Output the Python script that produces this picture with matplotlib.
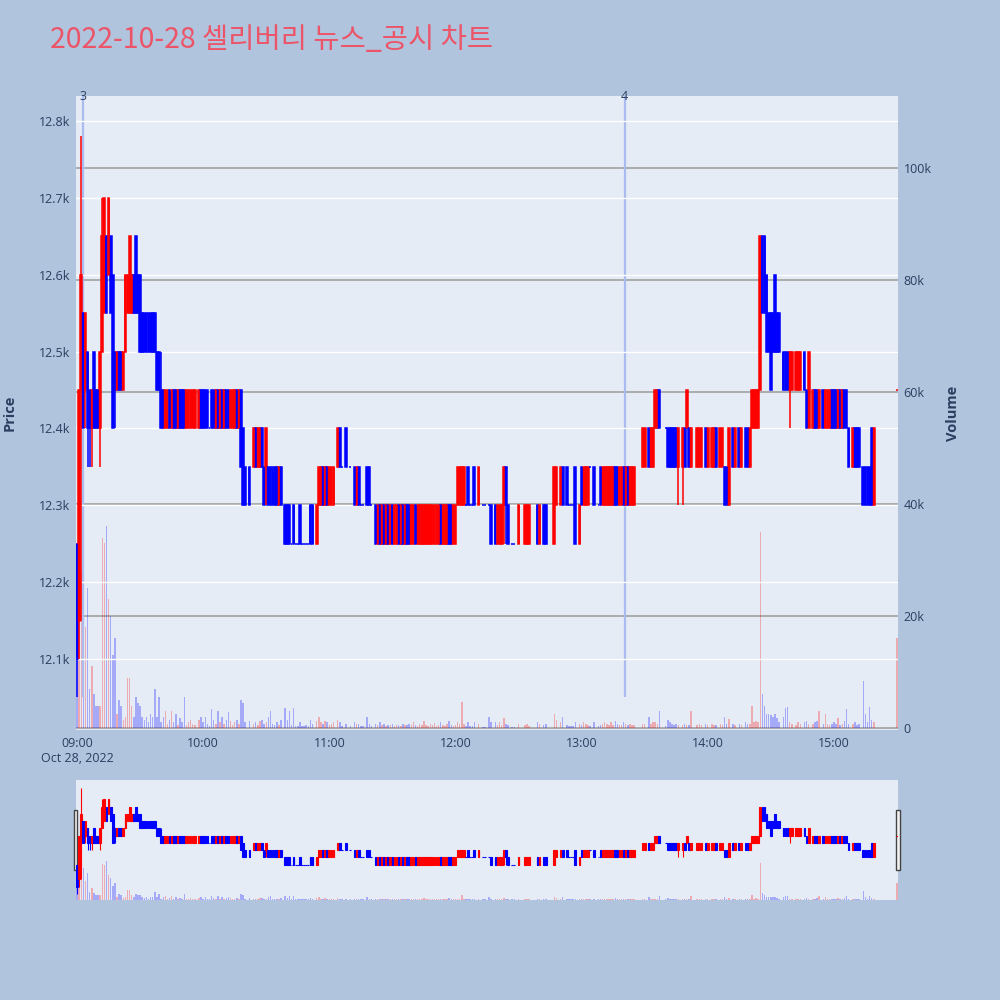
import matplotlib.pyplot as plt
from matplotlib.patches import Rectangle
from matplotlib.transforms import blended_transform_factory

plt.rcParams['font.family'] = ['Open Sans', 'Noto Sans CJK KR', 'DejaVu Sans']

title = '2022-10-28 셀리버리 뉴스_공시 차트'

# minutes after 09:00, one candle per traded minute
minute = [
    0, 1, 2, 3, 4, 5, 6, 7, 8, 9, 10, 11, 12, 13, 14, 15, 16, 17, 18, 19,
    20, 21, 22, 23, 24, 25, 26, 27, 28, 29, 30, 31, 32, 33, 34, 35, 36, 37, 38, 39, 40,
    41, 42, 43, 44, 45, 46, 47, 48, 49, 50, 51, 52, 53, 54, 55, 56,
    58, 59, 60, 61, 62, 63, 64, 65, 66, 67, 68, 69, 70, 71, 72, 73, 74, 75, 76, 77,
    78, 79, 80, 82, 84, 85, 86, 87, 88, 89, 90, 91, 92, 93, 94, 95, 96, 97,
    99, 100, 101, 102, 103, 104, 105, 106, 107, 108, 109, 110, 111, 112,
    114, 115, 116, 117, 118, 119, 120, 121, 122, 124, 125, 126, 128, 130,
    132, 133, 134, 135, 136, 138, 139, 140,
    142, 143, 144, 145, 146, 147, 148, 149, 150, 151, 152, 153, 154, 155, 156, 157,
    158, 159, 160, 161, 162, 163, 164, 165, 166, 167, 168, 169, 170, 171, 172, 173,
    174, 175, 176, 177, 178, 179, 180,
    181, 182, 183, 184, 185, 186, 187, 188, 189, 191, 193, 194, 196, 197,
    199, 200, 201, 202, 203, 204, 205, 207, 208, 210, 213, 214, 215, 219, 220,
    222, 223, 227, 228, 230, 231, 233, 234, 235,
    236, 237, 239, 240, 241, 242, 243, 244, 246, 248,
    249, 250, 251, 252, 253, 254, 255, 256, 257, 258,
    259, 260, 261, 262, 263, 264, 265, 269, 270, 272,
    273, 274, 275, 276, 277, 280, 281, 282, 283, 284,
    285, 286, 288, 289, 290, 291, 292, 295, 296, 297,
    299, 300, 302, 303, 304, 306, 307, 308, 309, 310,
    312, 313,
    315, 316, 318, 319, 320, 321, 322, 323, 324, 325,
    326, 327, 328, 329, 330, 331, 332, 333, 334, 336,
    337, 338, 339, 340, 342, 343, 344, 346, 347, 348,
    350, 351, 352, 353, 355, 356, 357, 358, 359, 360,
    361, 362, 363, 364, 365, 366, 367, 369, 370, 371,
    372, 374, 375, 376, 377, 378, 379, 390,
]

open_ = [
    12250, 12150, 12450, 12550, 12450, 12500, 12450, 12400, 12500, 12450,
    12450, 12400, 12500, 12550, 12650, 12600, 12650, 12600, 12500, 12450,
    12500, 12500, 12450, 12500, 12550, 12550, 12550, 12600, 12650, 12600,
    12600, 12550, 12550, 12550, 12550, 12550, 12550, 12550, 12500, 12500,
    12450,
    12450, 12400, 12400, 12450, 12400, 12450, 12450, 12400, 12450, 12450,
    12450, 12400, 12400, 12400, 12400, 12400, 12400, 12450, 12450, 12450,
    12450, 12400, 12450, 12450, 12400, 12450, 12400, 12450, 12400, 12450,
    12450, 12400, 12400, 12400, 12450, 12400,
    12450, 12400, 12350, 12350,
    12350, 12400, 12350, 12350, 12400, 12350, 12350, 12350, 12350, 12350, 12350, 12350, 12300, 12350,
    12300, 12300, 12300, 12250, 12300, 12250, 12250, 12300, 12250, 12250, 12250, 12250, 12300, 12300,
    12250, 12300, 12300, 12350, 12300, 12350, 12300, 12300, 12300,
    12350, 12400, 12350, 12400, 12350,
    12350, 12300, 12350, 12300, 12300, 12350, 12350, 12300,
    12300, 12250, 12300, 12250, 12300, 12250, 12300, 12250, 12300, 12250, 12250, 12300, 12250, 12300, 12250, 12300,
    12300, 12250, 12250, 12300, 12250, 12250, 12250, 12250, 12250, 12250, 12250, 12250,
    12250, 12250, 12250, 12300, 12250, 12250, 12250, 12300, 12300, 12250, 12250,
    12300, 12300, 12300, 12300, 12300, 12350, 12300, 12300, 12350, 12300, 12300, 12300, 12300, 12300,
    12300, 12250, 12250, 12250, 12300, 12350, 12300, 12250, 12250, 12250, 12250, 12250, 12250, 12300, 12250,
    12300, 12300, 12250, 12300, 12300, 12350, 12350, 12300, 12300,
    12300, 12350, 12250, 12350, 12300, 12300, 12300, 12350, 12350, 12300,
    12350, 12300, 12300, 12300, 12300, 12300, 12300, 12350, 12350, 12300,
    12300, 12350, 12300, 12350, 12300, 12300, 12300, 12350, 12350, 12400,
    12350, 12350, 12400, 12400, 12450, 12400, 12400, 12400, 12400, 12400,
    12400, 12350, 12350, 12400, 12400, 12400, 12350, 12350, 12350, 12350,
    12400, 12350, 12350, 12350, 12400, 12350, 12350, 12350, 12350, 12300,
    12400, 12350,
    12400, 12350, 12400, 12400, 12350, 12400, 12400, 12400, 12400, 12450,
    12650, 12650, 12600, 12550, 12550, 12550, 12600, 12550, 12550, 12500,
    12500, 12500, 12450, 12450, 12450, 12450, 12450, 12500, 12450, 12400,
    12400, 12450, 12450, 12400, 12450, 12400, 12400, 12400, 12450, 12450,
    12450, 12400, 12450, 12400, 12450, 12450, 12400, 12350, 12400, 12400,
    12400, 12350, 12350, 12350, 12350, 12400, 12300, 12450,
]

high = [
    12250, 12450, 12780, 12550, 12550, 12500, 12450, 12450, 12500, 12450,
    12450, 12500, 12700, 12700, 12650, 12700, 12650, 12600, 12500, 12500,
    12500, 12500, 12500, 12600, 12600, 12650, 12600, 12600, 12650, 12600,
    12600, 12550, 12550, 12550, 12550, 12550, 12550, 12550, 12500, 12500,
    12500,
    12450, 12450, 12450, 12450, 12450, 12450, 12450, 12450, 12450, 12450,
    12450, 12450, 12450, 12450, 12450, 12450, 12450, 12450, 12450, 12450,
    12450, 12400, 12450, 12450, 12450, 12450, 12450, 12450, 12450, 12450,
    12450, 12450, 12450, 12450, 12450, 12450,
    12450, 12400, 12350, 12350,
    12400, 12400, 12400, 12400, 12400, 12350, 12400, 12350, 12350, 12350, 12350, 12350, 12350, 12350,
    12300, 12300, 12300, 12250, 12300, 12250, 12250, 12300, 12250, 12250, 12250, 12250, 12300, 12300,
    12300, 12350, 12350, 12350, 12350, 12350, 12350, 12350, 12350,
    12400, 12400, 12350, 12400, 12350,
    12350, 12350, 12350, 12300, 12300, 12350, 12350, 12300,
    12300, 12300, 12300, 12300, 12300, 12300, 12300, 12300, 12300, 12300, 12300, 12300, 12300, 12300, 12300, 12300,
    12300, 12300, 12300, 12300, 12300, 12300, 12300, 12300, 12300, 12300, 12300, 12300,
    12300, 12300, 12300, 12300, 12300, 12300, 12300, 12300, 12300, 12300, 12300,
    12350, 12350, 12350, 12350, 12300, 12350, 12300, 12300, 12350, 12350, 12300, 12300, 12300, 12300,
    12300, 12300, 12300, 12300, 12350, 12350, 12300, 12250, 12250, 12300, 12300, 12300, 12300, 12300, 12300,
    12300, 12300, 12350, 12350, 12350, 12350, 12350, 12300, 12300,
    12300, 12350, 12300, 12350, 12350, 12350, 12350, 12350, 12350, 12300,
    12350, 12350, 12350, 12350, 12350, 12350, 12350, 12350, 12350, 12350,
    12350, 12350, 12350, 12350, 12350, 12350, 12350, 12400, 12400, 12400,
    12400, 12400, 12450, 12450, 12450, 12400, 12400, 12400, 12400, 12400,
    12400, 12400, 12400, 12400, 12450, 12400, 12400, 12400, 12400, 12400,
    12400, 12400, 12400, 12400, 12400, 12400, 12400, 12350, 12350, 12400,
    12400, 12400,
    12400, 12400, 12400, 12400, 12400, 12450, 12450, 12450, 12450, 12650,
    12650, 12650, 12600, 12550, 12550, 12550, 12600, 12550, 12550, 12500,
    12500, 12500, 12500, 12500, 12500, 12500, 12500, 12500, 12450, 12500,
    12450, 12450, 12450, 12450, 12450, 12450, 12450, 12450, 12450, 12450,
    12450, 12450, 12450, 12450, 12450, 12450, 12400, 12400, 12400, 12400,
    12400, 12350, 12350, 12350, 12350, 12400, 12400, 12450,
]

low = [
    12050, 12100, 12150, 12400, 12400, 12350, 12350, 12350, 12400, 12400,
    12400, 12350, 12500, 12550, 12550, 12600, 12550, 12400, 12400, 12450,
    12450, 12450, 12450, 12500, 12550, 12550, 12550, 12550, 12550, 12550,
    12500, 12500, 12500, 12500, 12500, 12500, 12500, 12500, 12450, 12450,
    12400,
    12400, 12400, 12400, 12400, 12400, 12400, 12400, 12400, 12400, 12400,
    12400, 12400, 12400, 12400, 12400, 12400, 12400, 12400, 12400, 12400,
    12400, 12400, 12400, 12400, 12400, 12400, 12400, 12400, 12400, 12400,
    12400, 12400, 12400, 12400, 12400, 12400,
    12350, 12300, 12300, 12300,
    12350, 12350, 12350, 12350, 12350, 12300, 12300, 12300, 12300, 12300, 12300, 12300, 12300, 12300,
    12250, 12250, 12250, 12250, 12250, 12250, 12250, 12250, 12250, 12250, 12250, 12250, 12250, 12250,
    12250, 12300, 12300, 12300, 12300, 12300, 12300, 12300, 12300,
    12350, 12350, 12350, 12350, 12350,
    12300, 12300, 12300, 12300, 12300, 12300, 12300, 12300,
    12250, 12250, 12250, 12250, 12250, 12250, 12250, 12250, 12250, 12250, 12250, 12250, 12250, 12250, 12250, 12250,
    12250, 12250, 12250, 12250, 12250, 12250, 12250, 12250, 12250, 12250, 12250, 12250,
    12250, 12250, 12250, 12250, 12250, 12250, 12250, 12250, 12250, 12250, 12250,
    12300, 12300, 12300, 12300, 12300, 12300, 12300, 12300, 12300, 12300, 12300, 12300, 12300, 12250,
    12250, 12250, 12250, 12250, 12250, 12250, 12250, 12250, 12250, 12250, 12250, 12250, 12250, 12250, 12250,
    12250, 12250, 12250, 12300, 12300, 12300, 12300, 12300, 12300,
    12300, 12250, 12250, 12300, 12300, 12300, 12300, 12350, 12300, 12300,
    12300, 12300, 12300, 12300, 12300, 12300, 12300, 12300, 12300, 12300,
    12300, 12300, 12300, 12300, 12300, 12300, 12300, 12350, 12350, 12350,
    12350, 12350, 12400, 12400, 12400, 12400, 12350, 12350, 12350, 12350,
    12350, 12300, 12300, 12350, 12400, 12350, 12350, 12350, 12350, 12350,
    12350, 12350, 12350, 12350, 12350, 12350, 12350, 12300, 12300, 12300,
    12350, 12350,
    12350, 12350, 12350, 12350, 12350, 12400, 12400, 12400, 12400, 12450,
    12550, 12550, 12500, 12500, 12450, 12500, 12500, 12500, 12500, 12450,
    12450, 12450, 12400, 12450, 12450, 12450, 12450, 12450, 12400, 12400,
    12400, 12400, 12400, 12400, 12400, 12400, 12400, 12400, 12400, 12400,
    12400, 12400, 12400, 12400, 12400, 12400, 12350, 12350, 12350, 12350,
    12350, 12300, 12300, 12300, 12300, 12300, 12300, 12450,
]

close = [
    12100, 12450, 12600, 12400, 12550, 12400, 12400, 12450, 12400, 12400,
    12400, 12500, 12650, 12700, 12550, 12700, 12550, 12400, 12450, 12500,
    12450, 12450, 12500, 12600, 12600, 12650, 12600, 12550, 12550, 12550,
    12500, 12500, 12500, 12500, 12500, 12500, 12500, 12500, 12450, 12450,
    12400,
    12400, 12450, 12450, 12400, 12450, 12400, 12400, 12450, 12400, 12400,
    12400, 12450, 12450, 12450, 12450, 12450, 12450, 12400, 12400, 12400,
    12400, 12400, 12400, 12400, 12450, 12400, 12450, 12400, 12450, 12400,
    12400, 12450, 12450, 12450, 12400, 12450,
    12350, 12300, 12300, 12300,
    12400, 12350, 12400, 12400, 12350, 12300, 12400, 12300, 12300, 12300, 12300, 12300, 12350, 12300,
    12250, 12250, 12250, 12250, 12250, 12250, 12250, 12250, 12250, 12250, 12250, 12250, 12250, 12250,
    12300, 12350, 12350, 12300, 12350, 12300, 12350, 12350, 12350,
    12400, 12350, 12350, 12350, 12350,
    12300, 12350, 12300, 12300, 12300, 12300, 12300, 12300,
    12250, 12300, 12250, 12300, 12250, 12300, 12250, 12300, 12250, 12300, 12300, 12250, 12300, 12250, 12300, 12250,
    12250, 12300, 12300, 12250, 12300, 12300, 12300, 12300, 12300, 12300, 12300, 12300,
    12300, 12300, 12300, 12250, 12300, 12300, 12300, 12250, 12250, 12300, 12300,
    12350, 12350, 12350, 12350, 12300, 12300, 12300, 12300, 12300, 12350, 12300, 12300, 12300, 12250,
    12250, 12300, 12300, 12300, 12350, 12300, 12250, 12250, 12250, 12300, 12300, 12300, 12300, 12250, 12300,
    12250, 12250, 12350, 12350, 12350, 12300, 12300, 12300, 12300,
    12300, 12250, 12300, 12300, 12350, 12350, 12350, 12350, 12300, 12300,
    12300, 12350, 12350, 12350, 12350, 12350, 12350, 12300, 12300, 12350,
    12350, 12300, 12350, 12300, 12350, 12350, 12350, 12400, 12400, 12350,
    12400, 12400, 12450, 12450, 12400, 12400, 12350, 12350, 12350, 12350,
    12350, 12400, 12400, 12350, 12450, 12350, 12400, 12400, 12400, 12400,
    12350, 12400, 12400, 12400, 12350, 12400, 12400, 12300, 12300, 12400,
    12350, 12400,
    12350, 12400, 12350, 12350, 12400, 12450, 12450, 12450, 12450, 12650,
    12550, 12550, 12500, 12500, 12450, 12500, 12500, 12500, 12500, 12450,
    12450, 12450, 12500, 12500, 12500, 12500, 12500, 12450, 12400, 12500,
    12450, 12400, 12400, 12450, 12400, 12450, 12450, 12450, 12400, 12400,
    12400, 12450, 12400, 12450, 12400, 12400, 12350, 12400, 12350, 12350,
    12350, 12300, 12300, 12300, 12300, 12300, 12400, 12450,
]

volume = [
    18000, 35000, 28000, 30000, 18000, 25000, 7000, 11000, 6000, 4000,
    4000, 4000, 34000, 33000, 36000, 23000, 20000, 13000, 16000, 2500,
    5000, 4000, 1500, 2000, 9000, 9000, 4000, 2000, 5600, 4400,
    4000, 2000, 1500, 2000, 1000, 2500, 2000, 7000, 2000, 5600,
    1000,
    2000, 3000, 800, 1500, 3000, 1000, 2500, 600, 1800, 1000,
    5500, 500, 1000, 1400, 800, 500, 1500, 2000, 1000, 2000,
    800, 400, 3400, 1500, 700, 3000, 1000, 2000, 800, 1500,
    2800, 1200, 600, 1000, 1500, 800,
    5000, 4500, 1000, 1200,
    800, 1000, 600, 1200, 1500, 800, 1000, 2000, 3000, 700, 500, 1000, 600, 1500,
    3600, 1500, 3000, 500, 3600, 300, 300, 1000, 400, 300, 500, 300, 1500, 800,
    1200, 2000, 1000, 800, 1200, 1000, 500, 800, 1000,
    1500, 1000, 300, 800, 300,
    1000, 700, 800, 300, 300, 2000, 800, 300,
    800, 600, 1000, 500, 700, 400, 600, 500, 800, 300, 600, 500, 400, 700, 500, 600,
    800, 500, 1000, 600, 400, 800, 500, 1200, 600, 400, 700, 500,
    900, 400, 600, 1000, 500, 300, 700, 1200, 600, 400, 500,
    1000, 800, 4600, 800, 300, 1000, 300, 300, 1000, 800, 200, 200, 2000, 1000,
    1000, 600, 1000, 500, 1800, 800, 500, 200, 200, 800, 600, 800, 400, 1000, 800,
    600, 800, 2500, 1500, 1000, 2000, 600, 300, 300,
    300, 1000, 800, 600, 1000, 800, 600, 300, 1000, 300,
    600, 800, 1000, 700, 600, 1000, 500, 1200, 800, 600,
    500, 1000, 700, 600, 800, 500, 600, 800, 800, 2000,
    700, 1000, 1000, 800, 3000, 300, 1500, 1000, 800, 600,
    800, 500, 600, 700, 500, 600, 3000, 600, 800, 500,
    700, 600, 800, 600, 500, 700, 600, 2000, 800, 1600,
    800, 600,
    800, 600, 1000, 800, 800, 4000, 1000, 1200, 1000, 35000,
    6000, 4000, 2500, 2500, 2300, 2000, 2500, 1800, 1000, 2000,
    3500, 3700, 1000, 800, 600, 1000, 800, 1000, 1200, 800,
    800, 1000, 1200, 3000, 700, 2500, 800, 600, 800, 1000,
    700, 1800, 600, 800, 1200, 3400, 800, 700, 1000, 600,
    800, 8400, 2500, 1000, 3700, 1500, 1000, 16000,
]

time_ticks = [0, 60, 120, 180, 240, 300, 360]
time_labels = ['09:00\nOct 28, 2022', '10:00', '11:00', '12:00', '13:00', '14:00', '15:00']
price_ticks = [12100, 12200, 12300, 12400, 12500, 12600, 12700, 12800]
price_labels = ['12.1k', '12.2k', '12.3k', '12.4k', '12.5k', '12.6k', '12.7k', '12.8k']
vol_ticks = [0, 20000, 40000, 60000, 80000, 100000]
vol_labels = ['0', '20k', '40k', '60k', '80k', '100k']
event_minute = [2.7, 260.5]
event_label = ['3', '4']

# red = up, blue = down (flat candles compared with the previous close)
colors = []
prev = None
for o, c in zip(open_, close):
    up = c > o or (c == o and prev is not None and c > prev)
    colors.append('#FF0000' if up else '#0000FF')
    prev = c
body = [c - o for o, c in zip(open_, close)]

BG = '#B0C4DE'
PLOT = '#E5ECF6'
TXT = '#2a3f5f'
XLIM = (-0.5, 390.5)
PLIM = (12007.6, 12832.5)
VLIM = (-360, 112860)

fig = plt.figure(figsize=(10, 10), dpi=100, facecolor=BG)


def draw(ax, axv, lw):
    axv.bar(minute, volume, width=0.7, color=colors, alpha=0.28, linewidth=0)
    ax.vlines(minute, low, high, colors=colors, linewidth=lw)
    ax.bar(minute, body, bottom=open_, width=0.85, color=colors,
           edgecolor=colors, linewidth=lw)
    ax.set_xlim(*XLIM)
    ax.set_ylim(*PLIM)
    axv.set_ylim(*VLIM)
    ax.set_zorder(axv.get_zorder() + 1)
    ax.patch.set_visible(False)
    axv.patch.set_visible(True)
    axv.set_facecolor(PLOT)
    for a in (ax, axv):
        for s in a.spines.values():
            s.set_visible(False)


# main chart
ax = fig.add_axes([0.076, 0.270, 0.822, 0.634])
axv = ax.twinx()
draw(ax, axv, 1.1)

ax.set_yticks(price_ticks, price_labels)
ax.grid(axis='y', color='white', linewidth=1.0)
ax.set_axisbelow(True)
axv.set_yticks(vol_ticks, vol_labels)
axv.grid(axis='y', color='#9a9a9a', linewidth=1.1)
axv.set_axisbelow(True)
ax.set_xticks(time_ticks, time_labels)
ax.tick_params(axis='x', length=0, pad=5, labelsize=9, colors=TXT)
ax.tick_params(axis='y', length=0, pad=4, labelsize=9, colors=TXT)
axv.tick_params(axis='y', length=0, pad=4, labelsize=9, colors=TXT)
for lab in ax.get_xticklabels():
    lab.set_linespacing(1.25)

trans = blended_transform_factory(ax.transData, ax.transAxes)
for m, lab in zip(event_minute, event_label):
    ax.vlines(m, 12050, PLIM[1], colors='#aabbf0', linewidth=1.6, zorder=0.5)
    ax.text(m, 1.0, lab, transform=trans, ha='center', va='center',
            fontsize=9, color=TXT)

# range slider
ax2 = fig.add_axes([0.076, 0.100, 0.822, 0.120])
ax2v = ax2.twinx()
draw(ax2, ax2v, 0.8)
for a in (ax2, ax2v):
    a.set_xticks([])
    a.set_yticks([])
for x0 in (0.0735, 0.8958):
    fig.add_artist(Rectangle((x0, 0.130), 0.0038, 0.060, transform=fig.transFigure,
                             facecolor='#f4f4f4', edgecolor='#444444', linewidth=1))

fig.text(0.050, 0.960, title, fontsize=20.5, color='#EC5468', ha='left', va='center',
         family=['Noto Sans CJK KR', 'DejaVu Sans'])
fig.text(0.010, 0.587, 'Price', rotation=90, ha='center', va='center',
         fontsize=10.5, fontweight='bold', color=TXT)
fig.text(0.953, 0.587, 'Volume', rotation=90, ha='center', va='center',
         fontsize=10.5, fontweight='bold', color=TXT)

fig.savefig('out.png', dpi=100, facecolor=BG)
